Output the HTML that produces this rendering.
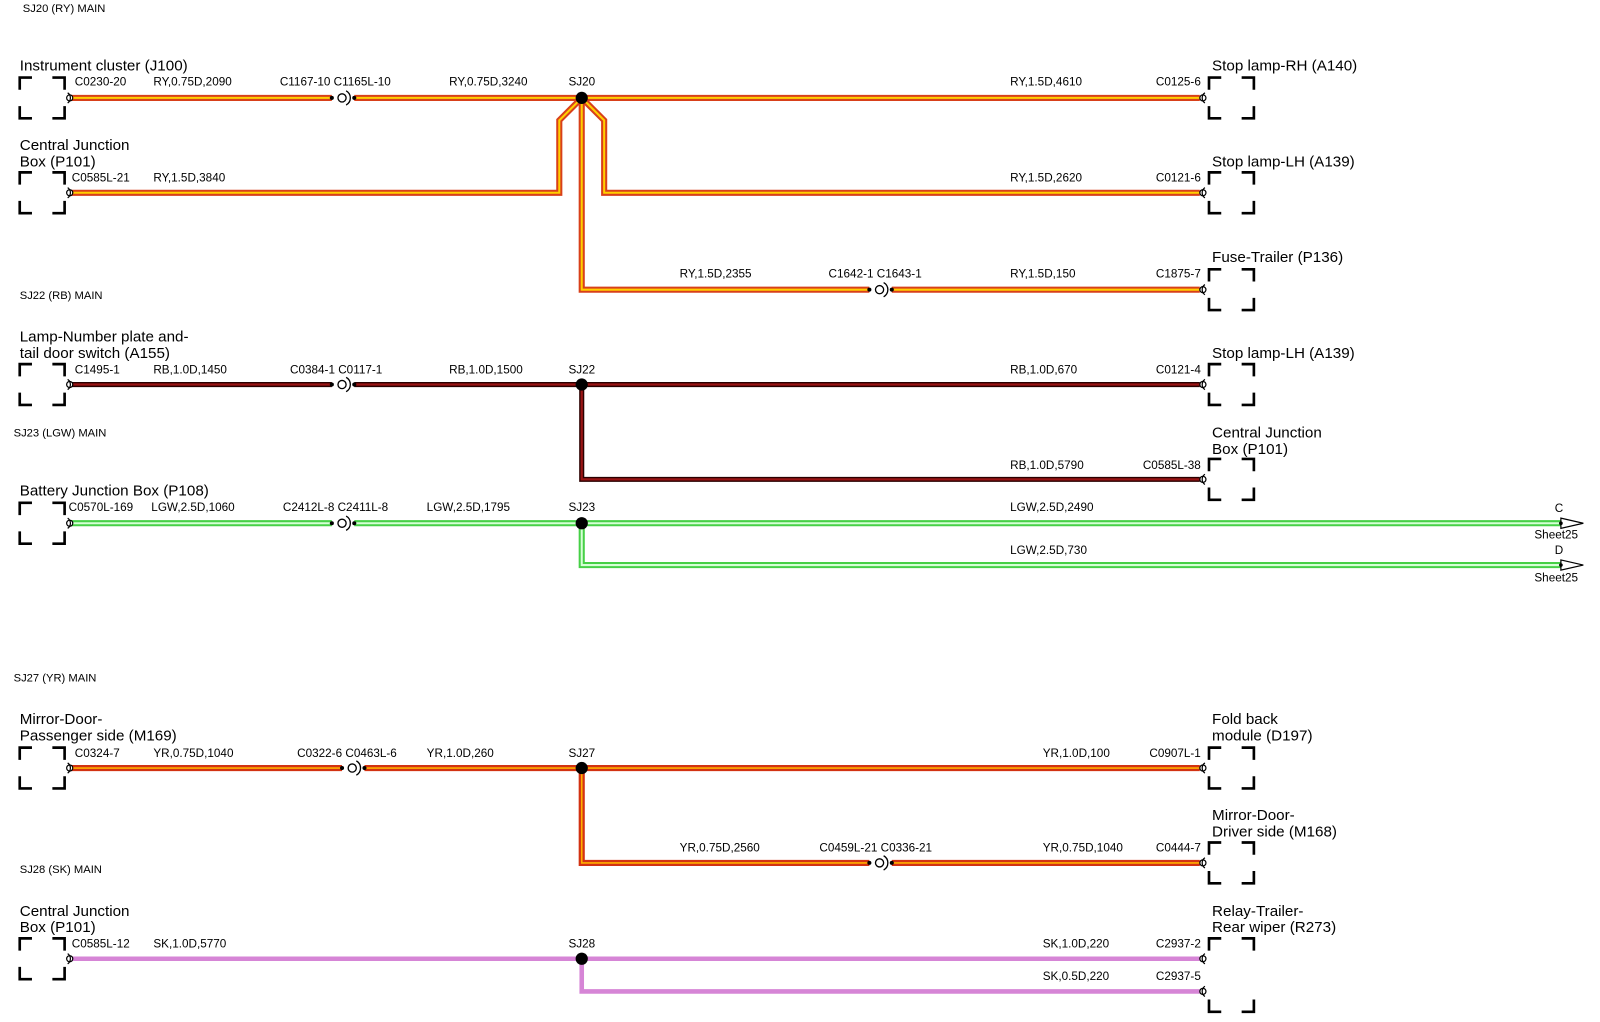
<!DOCTYPE html>
<html><head><meta charset="utf-8"><style>
html,body{margin:0;padding:0;background:#fff;}
svg{display:block}
text{font-family:"Liberation Sans",Arial,sans-serif;fill:#000}
.s{font-size:11.5px}
.n{font-size:14.9px}
.m{font-size:11px}
.ry1{stroke:#d8401a;stroke-width:6;fill:none}
.ry2{stroke:#ffd000;stroke-width:2;fill:none}
.rb1{stroke:#2a0000;stroke-width:5;fill:none}
.rb2{stroke:#9a1414;stroke-width:2.2;fill:none}
.lg1{stroke:#46d046;stroke-width:6;fill:none}
.lg2{stroke:#d6ffd6;stroke-width:2;fill:none}
.yr1{stroke:#d23212;stroke-width:6;fill:none}
.yr2{stroke:#ffb000;stroke-width:1.6;fill:none}
.sk{stroke:#d685d6;stroke-width:4.5;fill:none}
.bx{stroke:#000;stroke-width:2.6;fill:none}
</style></head><body>
<svg width="1600" height="1022" viewBox="0 0 1568 1002" xmlns="http://www.w3.org/2000/svg">
<defs>
<path id="box" class="bx" d="M0,-8V-20H12M32,-20H44V-8M0,8V20H12M32,20H44V8"/>
<g id="endL"><circle cx="0" cy="0" r="3" fill="#fff" stroke="#000" stroke-width="1.2"/><path d="M-2,-5A6,6 0 0 1 -2,5" fill="none" stroke="#000" stroke-width="1.2"/></g>
<g id="endR"><circle cx="0" cy="0" r="3" fill="#fff" stroke="#000" stroke-width="1.2"/><path d="M2,-5A6,6 0 0 0 2,5" fill="none" stroke="#000" stroke-width="1.2"/></g>
<g id="conn"><circle cx="-10" cy="0" r="2" fill="#000"/><circle cx="0" cy="0" r="4" fill="#fff" stroke="#000" stroke-width="1.3"/><path d="M4,-7A8,8 0 0 1 4,7" fill="none" stroke="#000" stroke-width="1.3"/><circle cx="12" cy="0" r="2" fill="#000"/></g>
<g id="arr"><path d="M0,-5L22,0L0,5Z" fill="#fff" stroke="#000" stroke-width="1.2"/><circle cx="0" cy="0" r="1.8" fill="#000"/></g>
</defs>

<text class="m" x="22" y="12">SJ20 (RY) MAIN</text>
<text class="m" x="19" y="293">SJ22 (RB) MAIN</text>
<text class="m" x="13" y="428">SJ23 (LGW) MAIN</text>
<text class="m" x="13" y="668">SJ27 (YR) MAIN</text>
<text class="m" x="19" y="856">SJ28 (SK) MAIN</text>

<polyline class="ry1" points="68,96 325,96"/><polyline class="ry2" points="68,96 325,96"/>
<polyline class="ry1" points="347,96 1176,96"/><polyline class="ry2" points="347,96 1176,96"/>
<polyline class="ry1" points="68,189 548,189 548,118 570,96"/><polyline class="ry2" points="68,189 548,189 548,118 570,96"/>
<polyline class="ry1" points="570,96 592,118 592,189 1176,189"/><polyline class="ry2" points="570,96 592,118 592,189 1176,189"/>
<polyline class="ry1" points="570,96 570,284 852,284"/><polyline class="ry2" points="570,96 570,284 852,284"/>
<polyline class="ry1" points="874,284 1176,284"/><polyline class="ry2" points="874,284 1176,284"/>

<polyline class="rb1" points="68,377 325,377"/><polyline class="rb2" points="68,377 325,377"/>
<polyline class="rb1" points="347,377 1176,377"/><polyline class="rb2" points="347,377 1176,377"/>
<polyline class="rb1" points="570,377 570,470 1176,470"/><polyline class="rb2" points="570,377 570,470 1176,470"/>

<polyline class="lg1" points="68,513 325,513"/><polyline class="lg2" points="68,513 325,513"/>
<polyline class="lg1" points="347,513 1530,513"/><polyline class="lg2" points="347,513 1530,513"/>
<polyline class="lg1" points="570,513 570,554 1530,554"/><polyline class="lg2" points="570,513 570,554 1530,554"/>

<polyline class="yr1" points="68,753 335,753"/><polyline class="yr2" points="68,753 335,753"/>
<polyline class="yr1" points="357,753 1176,753"/><polyline class="yr2" points="357,753 1176,753"/>
<polyline class="yr1" points="570,753 570,846 852,846"/><polyline class="yr2" points="570,753 570,846 852,846"/>
<polyline class="yr1" points="874,846 1176,846"/><polyline class="yr2" points="874,846 1176,846"/>

<polyline class="sk" points="68,940 1176,940"/>
<polyline class="sk" points="570,940 570,972 1176,972"/>

<use href="#conn" x="335" y="96"/>
<use href="#conn" x="862" y="284"/>
<use href="#conn" x="335" y="377"/>
<use href="#conn" x="335" y="513"/>
<use href="#conn" x="345" y="753"/>
<use href="#conn" x="862" y="846"/>

<circle cx="570" cy="96" r="6" fill="#000"/>
<circle cx="570" cy="377" r="6" fill="#000"/>
<circle cx="570" cy="513" r="6" fill="#000"/>
<circle cx="570" cy="753" r="6" fill="#000"/>
<circle cx="570" cy="940" r="6" fill="#000"/>

<use href="#arr" x="1530" y="513"/>
<use href="#arr" x="1530" y="554"/>
<text class="s" x="1524" y="502">C</text>
<text class="s" x="1504" y="528">Sheet25</text>
<text class="s" x="1524" y="543">D</text>
<text class="s" x="1504" y="570">Sheet25</text>

<use href="#box" x="19" y="96"/><use href="#endL" x="68" y="96"/>
<use href="#box" x="19" y="189"/><use href="#endL" x="68" y="189"/>
<use href="#box" x="19" y="377"/><use href="#endL" x="68" y="377"/>
<use href="#box" x="19" y="513"/><use href="#endL" x="68" y="513"/>
<use href="#box" x="19" y="753"/><use href="#endL" x="68" y="753"/>
<use href="#box" x="19" y="940"/><use href="#endL" x="68" y="940"/>
<use href="#box" x="1185" y="96"/><use href="#endR" x="1179" y="96"/>
<use href="#box" x="1185" y="189"/><use href="#endR" x="1179" y="189"/>
<use href="#box" x="1185" y="284"/><use href="#endR" x="1179" y="284"/>
<use href="#box" x="1185" y="377"/><use href="#endR" x="1179" y="377"/>
<use href="#box" x="1185" y="470"/><use href="#endR" x="1179" y="470"/>
<use href="#box" x="1185" y="753"/><use href="#endR" x="1179" y="753"/>
<use href="#box" x="1185" y="846"/><use href="#endR" x="1179" y="846"/>
<path class="bx" d="M1185,932V920H1197M1217,920H1229V932M1185,980V992H1197M1217,992H1229V980"/>
<use href="#endR" x="1179" y="940"/><use href="#endR" x="1179" y="972"/>

<text class="n" x="19" y="69">Instrument cluster (J100)</text>
<text class="n" x="19" y="147">Central Junction</text>
<text class="n" x="19" y="163">Box (P101)</text>
<text class="n" x="19" y="335">Lamp-Number plate and-</text>
<text class="n" x="19" y="351">tail door switch (A155)</text>
<text class="n" x="19" y="486">Battery Junction Box (P108)</text>
<text class="n" x="19" y="710">Mirror-Door-</text>
<text class="n" x="19" y="726">Passenger side (M169)</text>
<text class="n" x="19" y="898">Central Junction</text>
<text class="n" x="19" y="914">Box (P101)</text>

<text class="n" x="1188" y="69">Stop lamp-RH (A140)</text>
<text class="n" x="1188" y="163">Stop lamp-LH (A139)</text>
<text class="n" x="1188" y="257">Fuse-Trailer (P136)</text>
<text class="n" x="1188" y="351">Stop lamp-LH (A139)</text>
<text class="n" x="1188" y="429">Central Junction</text>
<text class="n" x="1188" y="445">Box (P101)</text>
<text class="n" x="1188" y="710">Fold back</text>
<text class="n" x="1188" y="726">module (D197)</text>
<text class="n" x="1188" y="804">Mirror-Door-</text>
<text class="n" x="1188" y="820">Driver side (M168)</text>
<text class="n" x="1188" y="898">Relay-Trailer-</text>
<text class="n" x="1188" y="914">Rear wiper (R273)</text>

<text class="s" x="73" y="84">C0230-20</text>
<text class="s" x="150" y="84">RY,0.75D,2090</text>
<text class="s" x="274" y="84">C1167-10 C1165L-10</text>
<text class="s" x="440" y="84">RY,0.75D,3240</text>
<text class="s" x="557" y="84">SJ20</text>
<text class="s" x="990" y="84">RY,1.5D,4610</text>
<text class="s" x="1177" y="84" text-anchor="end">C0125-6</text>

<text class="s" x="70" y="178">C0585L-21</text>
<text class="s" x="150" y="178">RY,1.5D,3840</text>
<text class="s" x="990" y="178">RY,1.5D,2620</text>
<text class="s" x="1177" y="178" text-anchor="end">C0121-6</text>

<text class="s" x="666" y="272">RY,1.5D,2355</text>
<text class="s" x="812" y="272">C1642-1 C1643-1</text>
<text class="s" x="990" y="272">RY,1.5D,150</text>
<text class="s" x="1177" y="272" text-anchor="end">C1875-7</text>

<text class="s" x="73" y="366">C1495-1</text>
<text class="s" x="150" y="366">RB,1.0D,1450</text>
<text class="s" x="284" y="366">C0384-1 C0117-1</text>
<text class="s" x="440" y="366">RB,1.0D,1500</text>
<text class="s" x="557" y="366">SJ22</text>
<text class="s" x="990" y="366">RB,1.0D,670</text>
<text class="s" x="1177" y="366" text-anchor="end">C0121-4</text>

<text class="s" x="990" y="460">RB,1.0D,5790</text>
<text class="s" x="1177" y="460" text-anchor="end">C0585L-38</text>

<text class="s" x="67" y="501">C0570L-169</text>
<text class="s" x="148" y="501">LGW,2.5D,1060</text>
<text class="s" x="277" y="501">C2412L-8 C2411L-8</text>
<text class="s" x="418" y="501">LGW,2.5D,1795</text>
<text class="s" x="557" y="501">SJ23</text>
<text class="s" x="990" y="501">LGW,2.5D,2490</text>
<text class="s" x="990" y="543">LGW,2.5D,730</text>

<text class="s" x="73" y="742">C0324-7</text>
<text class="s" x="150" y="742">YR,0.75D,1040</text>
<text class="s" x="291" y="742">C0322-6 C0463L-6</text>
<text class="s" x="418" y="742">YR,1.0D,260</text>
<text class="s" x="557" y="742">SJ27</text>
<text class="s" x="1022" y="742">YR,1.0D,100</text>
<text class="s" x="1177" y="742" text-anchor="end">C0907L-1</text>

<text class="s" x="666" y="835">YR,0.75D,2560</text>
<text class="s" x="803" y="835">C0459L-21 C0336-21</text>
<text class="s" x="1022" y="835">YR,0.75D,1040</text>
<text class="s" x="1177" y="835" text-anchor="end">C0444-7</text>

<text class="s" x="70" y="929">C0585L-12</text>
<text class="s" x="150" y="929">SK,1.0D,5770</text>
<text class="s" x="557" y="929">SJ28</text>
<text class="s" x="1022" y="929">SK,1.0D,220</text>
<text class="s" x="1177" y="929" text-anchor="end">C2937-2</text>
<text class="s" x="1022" y="961">SK,0.5D,220</text>
<text class="s" x="1177" y="961" text-anchor="end">C2937-5</text>
</svg>
</body></html>
